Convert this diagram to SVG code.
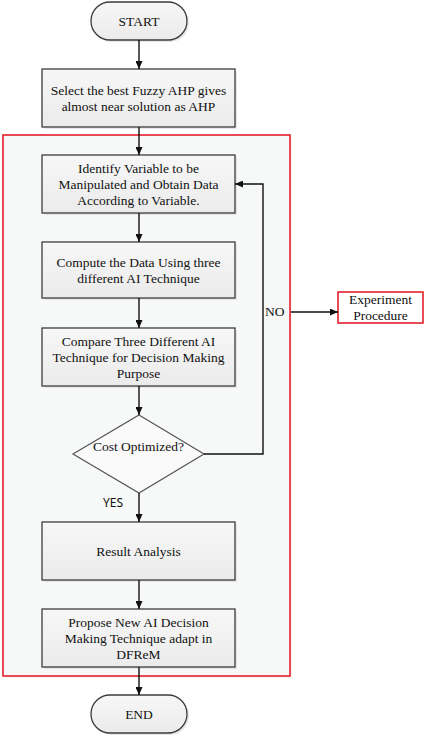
<svg xmlns="http://www.w3.org/2000/svg" width="425" height="738" viewBox="0 0 425 738">
<style>
.box{fill:url(#g);stroke:#3c3c3c;stroke-width:1.3}
.sh{fill:#d8d8d8;opacity:0.6}
.t{font-family:"Liberation Serif","Times New Roman",serif;font-size:13.5px;fill:#111;text-anchor:middle}
.c{fill:none;stroke:#111;stroke-width:1.4}
</style>
<defs>
<linearGradient id="g" x1="0" y1="0" x2="0" y2="1">
<stop offset="0" stop-color="#f7f7f7"/>
<stop offset="1" stop-color="#ebebeb"/>
</linearGradient>
<marker id="a" viewBox="0 0 8 7" refX="8" refY="3.5" markerWidth="8" markerHeight="7" markerUnits="userSpaceOnUse" orient="auto">
<path d="M0,0 L8,3.5 L0,7 z" fill="#111"/>
</marker>
</defs>
<rect width="425" height="738" fill="#fff"/>
<g id="container">
<rect x="5" y="137" width="287" height="541" fill="#ececec" opacity="0.5"/>
<rect x="3" y="135" width="287" height="541" fill="#f7f8f8" stroke="#e3202a" stroke-width="1.6"/>
</g>
<g id="start">
<rect x="93" y="4" width="96" height="38" rx="19" class="sh"/>
<rect x="91" y="2" width="96" height="38" rx="19" class="box"/>
<text x="139" y="25.5" class="t">START</text>
</g>
<g id="select">
<rect x="44" y="71" width="193" height="58" class="sh"/>
<rect x="42" y="69" width="193" height="58" class="box"/>
<text x="138.5" y="95" class="t">Select the best Fuzzy AHP gives</text>
<text x="138.5" y="111" class="t">almost near solution as AHP</text>
</g>
<g id="identify">
<rect x="44" y="157" width="193" height="58" class="sh"/>
<rect x="42" y="155" width="193" height="58" class="box"/>
<text x="138.5" y="172.5" class="t">Identify Variable to be</text>
<text x="138.5" y="188.5" class="t">Manipulated and Obtain Data</text>
<text x="138.5" y="204.5" class="t">According to Variable.</text>
</g>
<g id="compute">
<rect x="44" y="244" width="193" height="56" class="sh"/>
<rect x="42" y="242" width="193" height="56" class="box"/>
<text x="138.5" y="266.5" class="t">Compute the Data Using three</text>
<text x="138.5" y="282.5" class="t">different AI Technique</text>
</g>
<g id="compare">
<rect x="44" y="330" width="193" height="58" class="sh"/>
<rect x="42" y="328" width="193" height="58" class="box"/>
<text x="138.5" y="345.5" class="t">Compare Three Different AI</text>
<text x="138.5" y="361.5" class="t">Technique for Decision Making</text>
<text x="138.5" y="377.5" class="t">Purpose</text>
</g>
<g id="decision">
<polygon points="139,415 204,454 139,493 73,454" fill="#fafafa" stroke="#555" stroke-width="1.2"/>
<text x="138.5" y="450.5" class="t">Cost Optimized?</text>
</g>
<g id="result">
<rect x="44" y="524" width="193" height="58" class="sh"/>
<rect x="42" y="522" width="193" height="58" class="box"/>
<text x="138.5" y="555.5" class="t">Result Analysis</text>
</g>
<g id="propose">
<rect x="44" y="611" width="193" height="58" class="sh"/>
<rect x="42" y="609" width="193" height="58" class="box"/>
<text x="138.5" y="626.5" class="t">Propose New AI Decision</text>
<text x="138.5" y="642.5" class="t">Making Technique adapt in</text>
<text x="138.5" y="658.5" class="t">DFReM</text>
</g>
<g id="end">
<rect x="93" y="697" width="96" height="38" rx="19" class="sh"/>
<rect x="91" y="695" width="96" height="38" rx="19" class="box"/>
<text x="139" y="718.5" class="t">END</text>
</g>
<g id="experiment">
<rect x="338" y="292" width="85" height="31" fill="#fff" stroke="#e3202a" stroke-width="1.6"/>
<text x="380.5" y="303.5" class="t">Experiment</text>
<text x="380.5" y="319.5" class="t">Procedure</text>
</g>
<g id="connectors">
<line x1="139" y1="40" x2="139" y2="69" class="c" marker-end="url(#a)"/>
<line x1="139" y1="127" x2="139" y2="155" class="c" marker-end="url(#a)"/>
<line x1="139" y1="213" x2="139" y2="242" class="c" marker-end="url(#a)"/>
<line x1="139" y1="298" x2="139" y2="328" class="c" marker-end="url(#a)"/>
<line x1="139" y1="386" x2="139" y2="415" class="c" marker-end="url(#a)"/>
<line x1="139" y1="493" x2="139" y2="522" class="c" marker-end="url(#a)"/>
<line x1="139" y1="580" x2="139" y2="609" class="c" marker-end="url(#a)"/>
<line x1="139" y1="667" x2="139" y2="695" class="c" marker-end="url(#a)"/>
<polyline points="204,454 263,454 263,184 235,184" class="c" marker-end="url(#a)"/>
<line x1="291" y1="312" x2="338" y2="312" class="c" marker-end="url(#a)"/>
<text x="265" y="315.5" class="t" style="text-anchor:start">NO</text>
<text x="113" y="507" style="font-family:'Noto Sans',sans-serif;font-size:12px;fill:#111;text-anchor:middle">YES</text>
</g>
</svg>
